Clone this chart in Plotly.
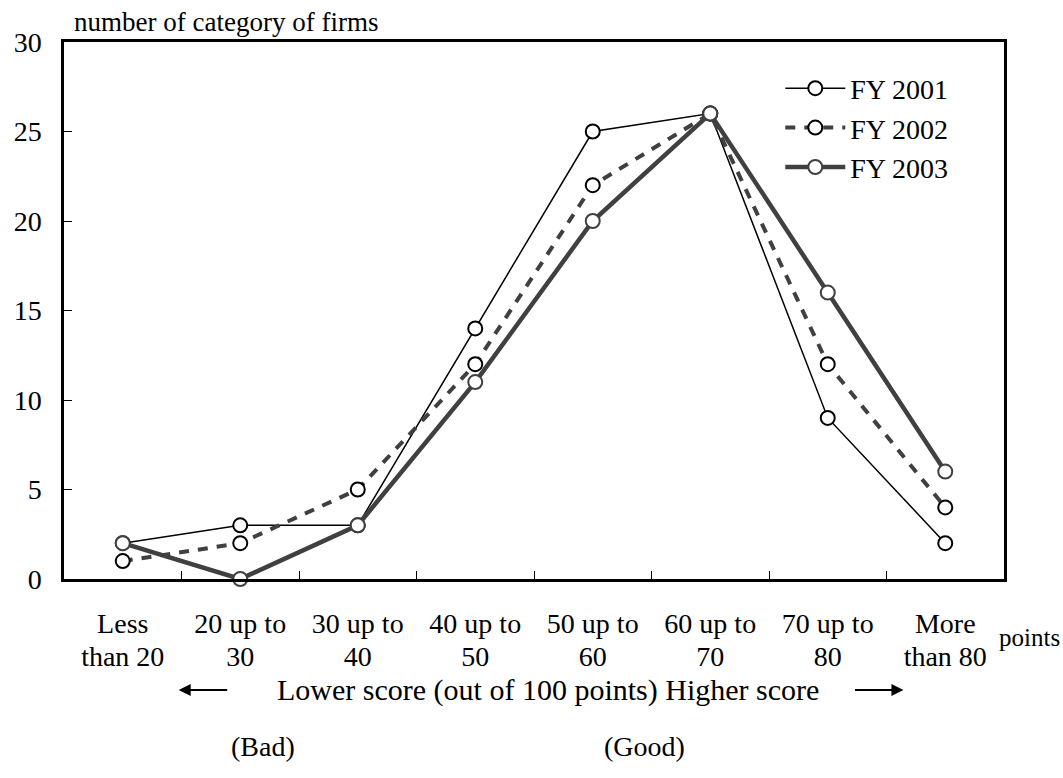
import plotly.graph_objects as go

cat_line1 = ["Less", "20 up to", "30 up to", "40 up to", "50 up to", "60 up to", "70 up to", "More"]
cat_line2 = ["than 20", "30", "40", "50", "60", "70", "80", "than 80"]
fy2001 = [2, 3, 3, 14, 25, 26, 9, 2]
fy2002 = [1, 2, 5, 12, 22, 26, 12, 4]
fy2003 = [2, 0, 3, 11, 20, 26, 16, 6]
y_ticks = [0, 5, 10, 15, 20, 25, 30]

FONT = "Liberation Serif"
FS_X = 28
FS_Y = 28
FS_LEG = 28
xs = list(range(len(cat_line1)))
xr = [-0.5, len(xs) - 0.5]

fig = go.Figure()
fig.add_trace(go.Scatter(
    x=xs, y=fy2001, name="FY 2001", mode="lines+markers",
    line=dict(color="black", width=1.5),
    marker=dict(symbol="circle", size=14, color="white", line=dict(color="black", width=2)),
    cliponaxis=False))
fig.add_trace(go.Scatter(
    x=xs, y=fy2002, name="FY 2002", mode="lines+markers",
    line=dict(color="#404040", width=4, dash="10px,9px"),
    marker=dict(symbol="circle", size=14, color="white", line=dict(color="black", width=2)),
    cliponaxis=False))
fig.add_trace(go.Scatter(
    x=xs, y=fy2003, name="FY 2003", mode="lines+markers",
    line=dict(color="#404040", width=4.5),
    marker=dict(symbol="circle", size=14, color="white", line=dict(color="#404040", width=2)),
    cliponaxis=False))

# invisible helper traces for the extra axes
fig.add_trace(go.Scatter(x=[0], y=[None], xaxis="x2", showlegend=False, hoverinfo="skip"))
fig.add_trace(go.Scatter(x=[0], y=[None], xaxis="x3", showlegend=False, hoverinfo="skip"))

fig.update_layout(
    width=1063, height=778,
    margin=dict(l=64, r=59, t=42, b=199, autoexpand=False),
    paper_bgcolor="white", plot_bgcolor="white",
    font=dict(family=FONT, size=FS_LEG, color="black"),
    showlegend=True,
    legend=dict(x=0.762, y=0.96, xanchor="left", yanchor="top",
                bgcolor="rgba(0,0,0,0)", font=dict(family=FONT, size=FS_LEG),
                tracegroupgap=0, itemwidth=60),
    xaxis=dict(
        range=xr, tickvals=xs, ticktext=cat_line1, automargin=False,
        ticks="", showgrid=False, zeroline=False,
        showline=True, linecolor="black", linewidth=2.5, mirror=True,
        ticklabelstandoff=18, tickfont=dict(family=FONT, size=FS_X),
    ),
    xaxis2=dict(
        overlaying="x", range=xr, automargin=False,
        tickvals=[i + 0.5 for i in xs[:-1]], ticktext=[""] * (len(xs) - 1),
        ticks="inside", ticklen=8, tickwidth=1, tickcolor="black",
        showgrid=False, zeroline=False, showline=False, side="bottom",
    ),
    xaxis3=dict(
        overlaying="x", range=xr, automargin=False,
        tickvals=xs, ticktext=cat_line2, ticks="",
        showgrid=False, zeroline=False, showline=False, side="bottom",
        ticklabelstandoff=58, tickfont=dict(family=FONT, size=FS_X),
    ),
    yaxis=dict(
        range=[0, 30], tickvals=y_ticks, ticks="inside", ticklen=8, tickwidth=1,
        tickcolor="black", showgrid=False, zeroline=False, automargin=False,
        showline=True, linecolor="black", linewidth=2.5, mirror=True,
        ticklabelstandoff=14, tickfont=dict(family=FONT, size=FS_Y),
    ),
    annotations=[
        dict(text="number of category of firms", xref="paper", yref="paper",
             x=0.008, y=1.0, xanchor="left", yanchor="middle", showarrow=False,
             yshift=20, font=dict(family=FONT, size=27)),
        dict(text="points", xref="paper", yref="paper", x=1.0, y=0, xanchor="right",
             yanchor="middle", xshift=58, yshift=-58, showarrow=False,
             font=dict(family=FONT, size=25)),
        dict(text="Lower score (out of 100 points) Higher score", xref="paper", yref="paper",
             x=0.515, y=0, xanchor="center", yanchor="middle", yshift=-111,
             showarrow=False, font=dict(family=FONT, size=30)),
        dict(text="(Bad)", xref="paper", yref="paper", x=0.212, y=0, xanchor="center",
             yanchor="middle", yshift=-167, showarrow=False, font=dict(family=FONT, size=FS_X)),
        dict(text="(Good)", xref="paper", yref="paper", x=0.618, y=0, xanchor="center",
             yanchor="middle", yshift=-167, showarrow=False, font=dict(family=FONT, size=FS_X)),
        # arrows
        dict(text="", xref="paper", yref="paper", x=0.122, y=0, ax=50, ay=0,
             yshift=-111, showarrow=True, arrowhead=2, arrowsize=1.2, arrowwidth=2,
             arrowcolor="black"),
        dict(text="", xref="paper", yref="paper", x=0.893, y=0, ax=-50, ay=0,
             yshift=-111, showarrow=True, arrowhead=2, arrowsize=1.2, arrowwidth=2,
             arrowcolor="black"),
    ],
)

fig.write_html("out.html")
